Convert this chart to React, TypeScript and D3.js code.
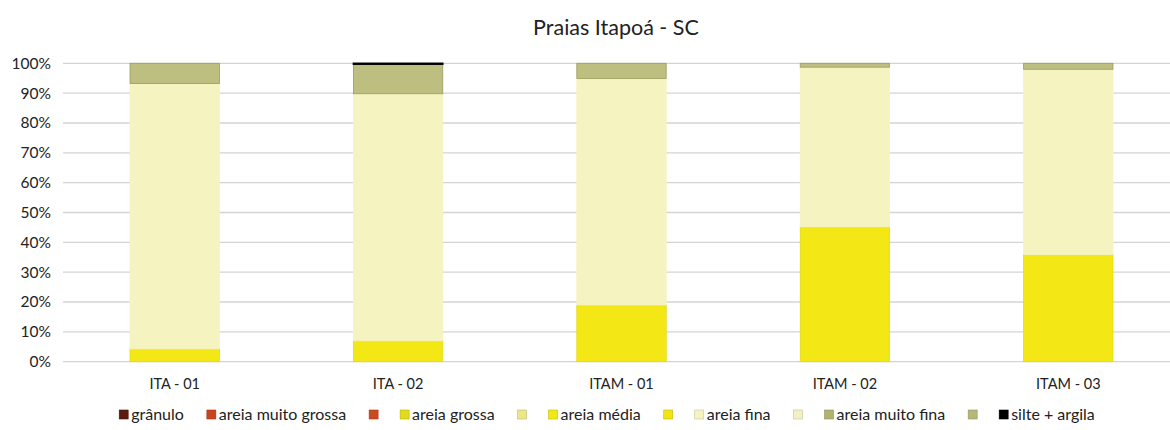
import React from "react";
import * as d3 from "d3";

const categories = ["ITA - 01", "ITA - 02", "ITAM - 01", "ITAM - 02", "ITAM - 03"];
const granulo = [0, 0, 0, 0, 0];
const areiaMuitoGrossa = [0, 0, 0, 0, 0];
const areiaGrossa = [0, 0, 0, 0, 0];
const areiaMedia = [4.3, 7.0, 19.0, 45.2, 35.9];
const areiaFina = [88.9, 82.8, 75.9, 53.5, 62.1];
const areiaMuitoFina = [6.8, 9.9, 5.1, 1.3, 2.0];
const silteArgila = [0, 0.3, 0, 0, 0];
const yTicks = [0, 10, 20, 30, 40, 50, 60, 70, 80, 90, 100];

const seriesNames = ["grânulo", "areia muito grossa", "areia grossa", "areia média", "areia fina", "areia muito fina", "silte + argila"];
const seriesValues = [granulo, areiaMuitoGrossa, areiaGrossa, areiaMedia, areiaFina, areiaMuitoFina, silteArgila];
const seriesColors = ["#5a1c0e", "#c9441e", "#e4da1c", "#f3e816", "#f5f3c0", "#bcbf80", "#000000"];
const seriesStroke = ["#3a0e06", "#a53414", "#c8be10", "#e6da10", "#f5f3c0", "#9a9c5c", "#000000"];
// legend: named entries plus unnamed ones (empty labels)
const legendLabels = ["grânulo", "areia muito grossa", "", "areia grossa", "", "areia média", "", "areia fina", "", "areia muito fina", "", "silte + argila"];
const legendColors = ["#5a1c0e", "#c9441e", "#cc4a22", "#e4da1c", "#ece68a", "#f3e816", "#f0e414", "#f5f3c0", "#f2f0c4", "#b0b470", "#b4b878", "#000000"];

const W = 1170, H = 430;
const FONT = "Lato, 'Open Sans', sans-serif";

function measure(text: string, size: number) {
  const c = document.createElement("canvas").getContext("2d");
  if (!c) return text.length * size * 0.5;
  c.font = `${size}px Lato`;
  return c.measureText(text).width;
}

export default function App() {
  const x = d3.scaleBand<string>().domain(categories).range([63, 1180]).paddingInner(0.6).paddingOuter(0.3);
  const y = d3.scaleLinear().domain([0, 100]).range([361.7, 63.3]);

  const rows = categories.map((c, i) => {
    const o: any = { cat: c };
    seriesNames.forEach((n, k) => (o[n] = seriesValues[k][i]));
    return o;
  });
  const stack = d3.stack<any>().keys(seriesNames)(rows);

  const legendSize = 16;
  const sw = 9;
  const items = legendLabels.map((l, i) => {
    const tw = l ? measure(l, legendSize) : 0;
    const w = l ? sw + 3 + tw + 23 : sw + 22;
    return { l, c: legendColors[i], w };
  });
  const total = d3.sum(items, (d) => d.w) - 23;
  let lx = 607 - total / 2;
  const legendPos = items.map((it) => {
    const p = lx;
    lx += it.w;
    return p;
  });

  return (
    <svg width={W} height={H} style={{ display: "block", position: "absolute", left: 0, top: 0 }} fontFamily={FONT}>
      <rect width={W} height={H} fill="#fff" />
      <text x={616} y={35} textAnchor="middle" fontSize={21.5} fill="#222">Praias Itapoá - SC</text>
      {yTicks.map((t) => (
        <g key={t}>
          <line x1={63} x2={1170} y1={y(t)} y2={y(t)} stroke="#d4d4d4" strokeWidth={1.3} />
          <text x={51} y={y(t)} dy="0.35em" textAnchor="end" fontSize={15.5} fill="#222">{t}%</text>
        </g>
      ))}
      {stack.map((s, k) =>
        s.map((d, i) => {
          const h = y(d[0]) - y(d[1]);
          if (h <= 0) return null;
          return (
            <rect key={k + "-" + i} x={x(categories[i])} width={x.bandwidth()} y={y(d[1])} height={h}
              fill={seriesColors[k]} stroke={seriesStroke[k]} strokeWidth={k === 6 ? 1.5 : 0.8} />
          );
        })
      )}
      {categories.map((c) => (
        <text key={c} x={(x(c) as number) + x.bandwidth() / 2} y={389} textAnchor="middle" fontSize={14.5} fill="#222">{c}</text>
      ))}
      {items.map((it, i) => (
        <g key={i} transform={`translate(${legendPos[i]},0)`}>
          <rect x={0} y={410} width={sw} height={sw} fill={it.c} stroke={it.c === "#000000" ? "#000" : d3.color(it.c)!.darker(0.6).toString()} strokeWidth={0.6} />
          {it.l && <text x={sw + 3} y={420} fontSize={legendSize} fill="#222">{it.l}</text>}
        </g>
      ))}
    </svg>
  );
}
